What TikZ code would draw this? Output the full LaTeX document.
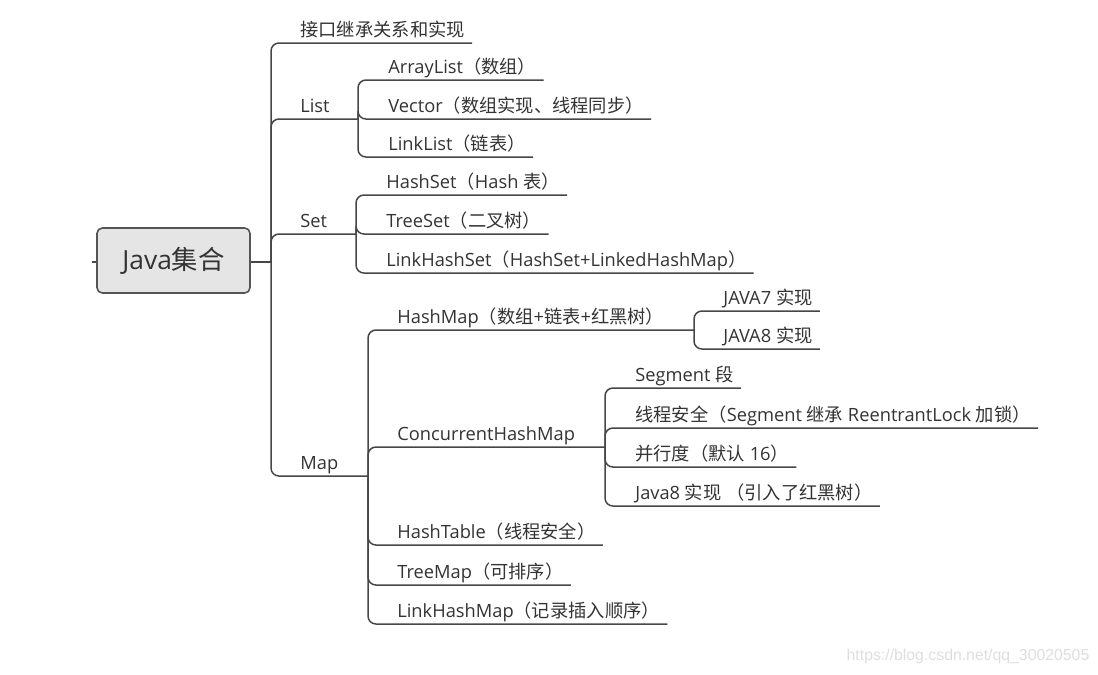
\documentclass[tikz,border=0pt]{standalone}
\usepackage{fontspec}
\setmainfont{Open Sans}
\newfontfamily\cjk{Noto Sans CJK SC}
\newfontfamily\markfont{Liberation Sans}
\usepackage{tikz}
\definecolor{inkgray}{RGB}{51,51,51}
\definecolor{linegray}{RGB}{70,70,70}
\definecolor{rootfill}{RGB}{229,229,229}
\definecolor{rootline}{RGB}{85,85,85}
\definecolor{watermark}{RGB}{222,222,222}
\newcommand{\zh}[1]{{\cjk #1}}

\begin{document}
\begin{tikzpicture}[x=0.02cm,y=-0.02cm,
  font=\fontsize{10.4}{12}\selectfont,text=inkgray,
  rootbox/.style={draw=rootline,fill=rootfill,line width=0.9pt,rounded corners=3pt,
                  minimum width=3.06cm,minimum height=1.3cm,font=\fontsize{15}{18}\selectfont},
  topic/.style={anchor=south west,inner xsep=4pt,inner ysep=1.6pt,
                text height=0.8em,text depth=0.2em},
  branch/.style={draw=linegray,line width=0.85pt,rounded corners=4.5pt}]
  \useasboundingbox (0,0) rectangle (1098,674);
  \node[rootbox] (root) at (173.5,260.5) {Java\zh{集合}};
  % first level
  \node[topic] (iface) at (293,43)  {\zh{接口继承关系和实现}};
  \node[topic] (list)  at (293,119) {List};
  \node[topic] (set)   at (293,234) {Set};
  \node[topic] (map)   at (293,476) {Map};
  % list
  \node[topic] (arraylist) at (381,80)  {ArrayList\zh{（数组）}};
  \node[topic] (vector)    at (381,119) {Vector\zh{（数组实现、线程同步）}};
  \node[topic] (linklist)  at (381,157) {LinkList\zh{（链表）}};
  % set
  \node[topic] (hashset)     at (379,195) {HashSet\zh{（}Hash \zh{表）}};
  \node[topic] (treeset)     at (379,234) {TreeSet\zh{（二叉树）}};
  \node[topic] (linkhashset) at (379,273) {LinkHashSet\zh{（}HashSet+LinkedHashMap\zh{）}};
  % map
  \node[topic] (hashmap)     at (390,330) {HashMap\zh{（数组}+\zh{链表}+\zh{红黑树）}};
  \node[topic] (chm)         at (390,447) {ConcurrentHashMap};
  \node[topic] (hashtable)   at (390,545) {HashTable\zh{（线程安全）}};
  \node[topic] (treemap)     at (390,585) {TreeMap\zh{（可排序）}};
  \node[topic] (linkhashmap) at (390,624) {LinkHashMap\zh{（记录插入顺序）}};
  \node[topic] (java7) at (716,311) {JAVA7 \zh{实现}};
  \node[topic] (java8) at (716,349) {JAVA8 \zh{实现}};
  \node[topic] (segment)   at (628,388) {Segment \zh{段}};
  \node[topic] (safety)    at (628,428) {\zh{线程安全（}Segment \zh{继承} ReentrantLock \zh{加锁）}};
  \node[topic] (level)     at (628,467) {\zh{并行度（默认} 16\zh{）}};
  \node[topic] (java8tree) at (628,506) {Java8 \zh{实现} \zh{（引入了红黑树）}};
  \node[font=\markfont\fontsize{9}{11}\selectfont,text=watermark] (mark) at (968,656)
    {https://blog.csdn.net/qq\_30020505};
  % forks
  \coordinate (stub) at (92,262);
  \coordinate (rootfork) at (271,262);
  \coordinate (listfork) at (358,119);
  \coordinate (setfork) at (356,234);
  \coordinate (mapfork) at (368,476);
  \coordinate (hashmapfork) at (694,330);
  \coordinate (chmfork) at (605,447);
  % connectors
  \draw[branch] (root.west |- stub) -- (stub);
  \draw[branch] (root.east |- rootfork) -- (rootfork);
  \draw[branch] (rootfork) |- (iface.south west) -- (iface.south east);
  \draw[branch] (rootfork) |- (list.south west) -- (listfork);
  \draw[branch] (rootfork) |- (set.south west) -- (setfork);
  \draw[branch] (rootfork) |- (map.south west) -- (mapfork);
  \foreach \c in {arraylist,vector,linklist}
    \draw[branch] (listfork) |- (\c.south west) -- (\c.south east);
  \foreach \c in {hashset,treeset,linkhashset}
    \draw[branch] (setfork) |- (\c.south west) -- (\c.south east);
  \foreach \c in {hashtable,treemap,linkhashmap}
    \draw[branch] (mapfork) |- (\c.south west) -- (\c.south east);
  \draw[branch] (mapfork) |- (hashmap.south west) -- (hashmapfork);
  \draw[branch] (mapfork) |- (chm.south west) -- (chmfork);
  \foreach \c in {java7,java8}
    \draw[branch] (hashmapfork) |- (\c.south west) -- (\c.south east);
  \foreach \c in {segment,safety,level,java8tree}
    \draw[branch] (chmfork) |- (\c.south west) -- (\c.south east);
\end{tikzpicture}
\end{document}
